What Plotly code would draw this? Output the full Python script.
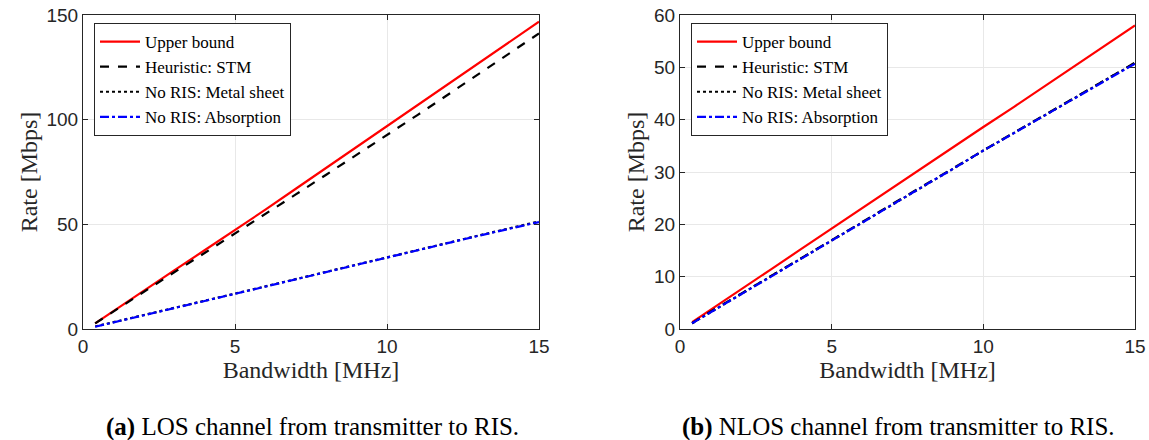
import plotly.graph_objects as go

# ---------------- data ----------------
bw = [0.4, 1, 2, 3, 4, 5, 6, 7, 8, 9, 10, 11, 12, 13, 14, 15]

los_upper = [2.7, 8.6, 18.3, 28.0, 37.6, 47.1, 57.0, 67.0, 77.0, 87.0, 96.9, 106.9, 116.9, 126.9, 136.8, 146.8]
los_stm = [2.7, 8.4, 17.8, 27.1, 36.3, 45.5, 54.9, 64.3, 73.7, 83.1, 92.5, 102.2, 111.9, 121.6, 131.4, 141.2]
los_metal = [1.2, 3.3, 6.8, 10.2, 13.5, 16.9, 20.4, 23.9, 27.4, 30.9, 34.4, 37.8, 41.2, 44.6, 48.0, 51.4]
los_absorb = [1.1, 3.2, 6.6, 10.0, 13.4, 16.8, 20.3, 23.8, 27.3, 30.8, 34.3, 37.7, 41.1, 44.5, 47.8, 51.1]

nlos_upper = [1.3, 3.6, 7.5, 11.4, 15.3, 19.2, 23.0, 26.9, 30.8, 34.7, 38.6, 42.4, 46.3, 50.2, 54.1, 58.0]
nlos_stm = [1.1, 3.3, 6.7, 10.1, 13.6, 17.0, 20.4, 23.9, 27.3, 30.7, 34.2, 37.5, 40.8, 44.2, 47.6, 50.9]
nlos_metal = [1.1, 3.2, 6.7, 10.1, 13.5, 16.9, 20.3, 23.8, 27.2, 30.6, 34.1, 37.4, 40.8, 44.1, 47.5, 50.8]
nlos_absorb = [1.1, 3.2, 6.6, 10.0, 13.5, 16.9, 20.3, 23.8, 27.2, 30.6, 34.1, 37.4, 40.7, 44.0, 47.4, 50.7]

series_names = ["Upper bound", "Heuristic: STM", "No RIS: Metal sheet", "No RIS: Absorption"]
x_ticks = [0, 5, 10, 15]
los_yticks = [0, 50, 100, 150]
nlos_yticks = [0, 10, 20, 30, 40, 50, 60]
x_title = "Bandwidth [MHz]"
y_title = "Rate [Mbps]"
captions = ["<b>(a)</b> LOS channel from transmitter to RIS.",
            "<b>(b)</b> NLOS channel from transmitter to RIS."]

# ---------------- styles ----------------
styles = [
    dict(color="#ff0000", width=2.2, dash="solid"),
    dict(color="#000000", width=2.2, dash="dash"),
    dict(color="#000000", width=2.2, dash="dot"),
    dict(color="#0000ff", width=2.2, dash="dashdot"),
]
SERIF = "Liberation Serif, Times New Roman, serif"
SANS = "Liberation Sans, Arial, sans-serif"
TXT = "#262626"

W, H = 1149, 440


def px(x):
    return x / W


def py(y):
    return (H - y) / H


fig = go.Figure()

for i, (name, ys) in enumerate(zip(series_names, [los_upper, los_stm, los_metal, los_absorb])):
    fig.add_trace(go.Scatter(x=bw, y=ys, mode="lines", name=name, line=styles[i],
                             xaxis="x", yaxis="y", legend="legend"))
for i, (name, ys) in enumerate(zip(series_names, [nlos_upper, nlos_stm, nlos_metal, nlos_absorb])):
    fig.add_trace(go.Scatter(x=bw, y=ys, mode="lines", name=name, line=styles[i],
                             xaxis="x2", yaxis="y2", legend="legend2"))

ydom = [py(329), py(15)]
dom1 = [px(83), px(539)]
dom2 = [px(680), px(1135)]

axis_common = dict(showgrid=True, gridcolor="#e8e8e8", gridwidth=1,
                   showline=True, linecolor=TXT, linewidth=1, mirror="ticks",
                   ticks="inside", ticklen=5, tickcolor=TXT,
                   tickfont=dict(family=SANS, size=19, color=TXT),
                   ticklabeloverflow="allow",
                   zeroline=False, automargin=False)
title_font = dict(family=SERIF, size=24, color=TXT)
leg_common = dict(xanchor="left", yanchor="top",
                  bgcolor="white", bordercolor=TXT, borderwidth=1,
                  font=dict(family=SERIF, size=17, color="#000000"),
                  tracegroupgap=0, itemwidth=40)

fig.update_layout(
    width=W, height=H,
    margin=dict(l=0, r=0, t=0, b=0),
    paper_bgcolor="white", plot_bgcolor="white",
    xaxis=dict(domain=dom1, range=[0, 15], tickvals=x_ticks, anchor="y",
               title=dict(text=x_title, font=title_font, standoff=0), **axis_common),
    yaxis=dict(domain=ydom, range=[0, 150], tickvals=los_yticks, anchor="x",
               title=dict(text=y_title, font=title_font, standoff=2), **axis_common),
    xaxis2=dict(domain=dom2, range=[0, 15], tickvals=x_ticks, anchor="y2",
                title=dict(text=x_title, font=title_font, standoff=0), **axis_common),
    yaxis2=dict(domain=ydom, range=[0, 60], tickvals=nlos_yticks, anchor="x2",
                title=dict(text=y_title, font=title_font, standoff=2), **axis_common),
    legend=dict(x=px(94), y=py(23), **leg_common),
    legend2=dict(x=px(691), y=py(23), **leg_common),
    annotations=[
        dict(text=captions[0], x=px(312), y=py(427), xref="paper", yref="paper",
             xanchor="center", yanchor="middle",
             showarrow=False, font=dict(family=SERIF, size=25, color="#000000")),
        dict(text=captions[1], x=px(899), y=py(427), xref="paper", yref="paper",
             xanchor="center", yanchor="middle",
             showarrow=False, font=dict(family=SERIF, size=25, color="#000000")),
    ],
)

fig.write_html("out.html",
               config={"displayModeBar": False},
               post_script="document.body.style.margin='0';document.body.style.overflow='hidden';")
